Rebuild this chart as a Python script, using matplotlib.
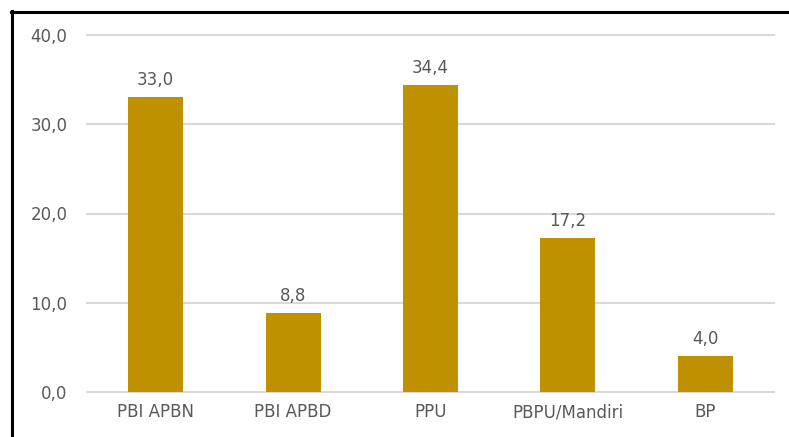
import matplotlib
matplotlib.use('Agg')
import matplotlib.pyplot as plt
from matplotlib.lines import Line2D

categories = ['PBI APBN', 'PBI APBD', 'PPU', 'PBPU/Mandiri', 'BP']
values = [33.0, 8.8, 34.4, 17.2, 4.0]
yticks = [0, 10, 20, 30, 40]

plt.rcParams['font.family'] = ['DejaVu Sans']
text_color = '#595959'
fs = 12

fig = plt.figure(figsize=(7.89, 4.37), dpi=100)
ax = fig.add_axes([87 / 789, 1 - 392 / 437, 687 / 789, 357 / 437])

x = range(len(categories))
bars = ax.bar(x, values, width=0.4, color='#BF9000', zorder=3)
for b, v in zip(bars, values):
    ax.annotate(f'{v:.1f}'.replace('.', ','), (b.get_x() + b.get_width() / 2, v),
                xytext=(0, 6), textcoords='offset points', ha='center', va='bottom',
                fontsize=fs, color=text_color)

ax.set_xlim(-0.5, len(categories) - 0.5)
ax.set_ylim(0, 40)
ax.set_yticks(yticks)
ax.set_yticklabels([f'{t:.1f}'.replace('.', ',') for t in yticks])
ax.set_xticks(list(x))
ax.set_xticklabels(categories)
ax.tick_params(axis='y', length=0, pad=14, labelsize=fs, labelcolor=text_color)
ax.tick_params(axis='x', length=0, pad=8, labelsize=fs, labelcolor=text_color)
ax.grid(axis='y', color='#D9D9D9', linewidth=1.5, zorder=0)
for gl in ax.get_ygridlines():
    gl.set_clip_on(False)
for s in ax.spines.values():
    s.set_visible(False)

# frame lines left and top
fig.add_artist(Line2D([12 / 789, 12 / 789], [0, 1 - 11 / 437], color='black', linewidth=2.2))
fig.add_artist(Line2D([11 / 789, 1], [1 - 11.5 / 437, 1 - 11.5 / 437], color='black', linewidth=2.2))

plt.savefig('out.png', dpi=100)
